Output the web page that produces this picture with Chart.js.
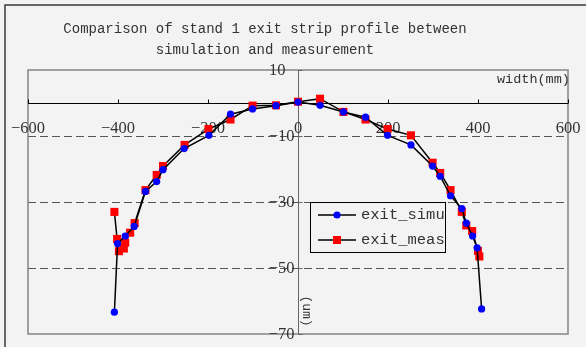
<!DOCTYPE html>
<html>
<head>
<meta charset="utf-8">
<script src="https://cdn.jsdelivr.net/npm/chart.js@4"></script>
<style>
  html, body { margin: 0; padding: 0; background: #f3f3f3; }
  #wrap { width: 586px; height: 347px; }
</style>
</head>
<body>
<div id="wrap"><canvas id="c" width="586" height="347"></canvas></div>
<script>
// values (width in mm, profile in um)
const simuX = [-408, -401, -384, -364, -339, -314, -300, -253, -198, -150, -101, -49, 0, 49, 101, 150, 199, 251, 299, 316, 339, 364, 374, 388, 398, 408];
const simuY = [-63.4, -42.6, -40.3, -37.4, -26.8, -23.8, -20.2, -13.8, -9.8, -3.4, -1.8, -0.8, 0.3, -0.7, -2.7, -4.3, -9.8, -12.7, -19.1, -22.2, -28.1, -32.0, -36.4, -40.3, -43.9, -62.4];
const measX = [-408, -402, -398, -387, -384, -373, -363, -339, -314, -300, -252, -199, -150, -101, -49, 0, 49, 101, 150, 199, 251, 299, 316, 339, 364, 374, 387, 400, 403];
const measY = [-33.0, -41.2, -44.9, -44.1, -42.3, -39.3, -36.4, -26.4, -21.8, -19.1, -12.7, -7.9, -5.0, -0.8, -0.7, 0.4, 1.3, -2.7, -5.0, -7.9, -9.8, -18.1, -21.2, -26.4, -33.0, -37.1, -38.8, -44.8, -46.5];

const xTicks = [-600, -400, -200, 0, 200, 400, 600];
const yTicks = [10, -10, -30, -50, -70];
const gridY = [-10, -30, -50];

const seriesNames = ['exit_simu', 'exit_meas'];
const titleLines = ['Comparison of stand 1 exit strip profile between', 'simulation and measurement'];
const xTitle = 'width(mm)';
const yTitle = '(um)';

const fmt = v => (v < 0 ? '\u2212' + Math.abs(v) : String(v));

const decor = {
  id: 'decor',
  beforeDraw(chart) {
    const ctx = chart.ctx;
    ctx.save();
    ctx.fillStyle = '#f3f3f3';
    ctx.fillRect(0, 0, chart.width, chart.height);
    // outer frame
    ctx.strokeStyle = '#3a3a3a';
    ctx.lineWidth = 1.5;
    ctx.beginPath();
    ctx.moveTo(5, chart.height);
    ctx.lineTo(5, 5);
    ctx.lineTo(chart.width, 5);
    ctx.stroke();
    // title
    ctx.fillStyle = '#333';
    ctx.font = '14px "Liberation Mono"';
    ctx.textAlign = 'center';
    ctx.textBaseline = 'middle';
    ctx.fillText(titleLines[0], 265, 29);
    ctx.fillText(titleLines[1], 265, 50);
    ctx.restore();
  },
  beforeDatasetsDraw(chart) {
    const ctx = chart.ctx;
    const a = chart.chartArea;
    const xs = chart.scales.x, ys = chart.scales.y;
    const x0 = Math.round(xs.getPixelForValue(0)) + 0.5;
    const y0 = Math.round(ys.getPixelForValue(0)) + 0.5;
    ctx.save();
    // dashed grid
    ctx.strokeStyle = '#555';
    ctx.lineWidth = 1;
    ctx.setLineDash([8, 4]);
    gridY.forEach(v => {
      const y = Math.round(ys.getPixelForValue(v)) + 0.5;
      ctx.beginPath();
      ctx.moveTo(a.left, y);
      ctx.lineTo(a.right, y);
      ctx.stroke();
    });
    ctx.setLineDash([]);
    // plot frame
    ctx.strokeStyle = '#858585';
    ctx.lineWidth = 1.5;
    ctx.strokeRect(a.left, a.top, a.right - a.left, a.bottom - a.top);
    // y axis
    ctx.strokeStyle = '#666';
    ctx.lineWidth = 1;
    ctx.beginPath();
    ctx.moveTo(x0, a.top);
    ctx.lineTo(x0, a.bottom);
    ctx.stroke();
    yTicks.forEach(v => {
      const y = Math.round(ys.getPixelForValue(v)) + 0.5;
      ctx.beginPath();
      ctx.moveTo(x0, y);
      ctx.lineTo(x0 + 4, y);
      ctx.stroke();
    });
    // x axis
    ctx.strokeStyle = '#000';
    ctx.beginPath();
    ctx.moveTo(a.left, y0);
    ctx.lineTo(a.right, y0);
    ctx.stroke();
    xTicks.forEach(v => {
      const x = Math.round(xs.getPixelForValue(v)) + 0.5;
      ctx.beginPath();
      ctx.moveTo(x, y0);
      ctx.lineTo(x, y0 - 4);
      ctx.stroke();
    });
    // tick labels
    ctx.fillStyle = '#333';
    ctx.font = '16.5px "Liberation Serif"';
    ctx.textBaseline = 'middle';
    ctx.textAlign = 'center';
    xTicks.forEach(v => {
      ctx.fillText(fmt(v), xs.getPixelForValue(v), y0 + 25);
    });
    ctx.textAlign = 'right';
    yTicks.forEach(v => {
      const off = v > 0 ? 13 : 4;
      ctx.fillText(fmt(v), x0 - off, ys.getPixelForValue(v) + 0.5);
    });
    // axis titles
    ctx.font = '13.5px "Liberation Mono"';
    ctx.textAlign = 'left';
    ctx.fillText(xTitle, 497, 79);
    ctx.translate(x0 + 8, 311);
    ctx.rotate(Math.PI / 2);
    ctx.textAlign = 'center';
    ctx.font = '13px "Liberation Mono"';
    ctx.fillText(yTitle, 0, 0);
    ctx.restore();
  },
  afterDatasetsDraw(chart) {
    const ctx = chart.ctx;
    ctx.save();
    ctx.fillStyle = '#f3f3f3';
    ctx.fillRect(311, 202, 135, 50);
    ctx.strokeStyle = '#000';
    ctx.lineWidth = 1;
    ctx.strokeRect(310.5, 202.5, 135, 50);
    const rows = [215, 240];
    chart.data.datasets.forEach((ds, i) => {
      const y = rows[i];
      ctx.strokeStyle = '#000';
      ctx.lineWidth = 1.5;
      ctx.beginPath();
      ctx.moveTo(318, y);
      ctx.lineTo(356, y);
      ctx.stroke();
      ctx.fillStyle = ds.pointBackgroundColor;
      if (ds.pointStyle === 'rect') {
        ctx.fillRect(333, y - 4, 8, 8);
      } else {
        ctx.beginPath();
        ctx.arc(337, y, 3.6, 0, Math.PI * 2);
        ctx.fill();
      }
      ctx.fillStyle = '#333';
      ctx.font = '15.5px "Liberation Mono"';
      ctx.textAlign = 'left';
      ctx.textBaseline = 'middle';
      ctx.fillText(ds.label, 361, y);
    });
    ctx.restore();
  }
};

new Chart(document.getElementById('c'), {
  type: 'scatter',
  data: {
    datasets: [
      {
        label: seriesNames[0],
        data: simuX.map((x, i) => ({ x: x, y: simuY[i] })),
        showLine: true,
        borderColor: '#000',
        borderWidth: 1.5,
        pointStyle: 'circle',
        pointRadius: 3.6,
        pointBorderWidth: 0,
        pointBackgroundColor: '#0000ff'
      },
      {
        label: seriesNames[1],
        data: measX.map((x, i) => ({ x: x, y: measY[i] })),
        showLine: true,
        borderColor: '#000',
        borderWidth: 1.5,
        pointStyle: 'rect',
        pointRadius: 5.7,
        pointBorderWidth: 0,
        pointBackgroundColor: '#ff0000'
      }
    ]
  },
  options: {
    responsive: false,
    animation: false,
    events: [],
    layout: { padding: { left: 28, right: 18, top: 70, bottom: 13 } },
    scales: {
      x: { type: 'linear', min: -600, max: 600, display: false },
      y: { type: 'linear', min: -70, max: 10, display: false }
    },
    plugins: {
      legend: { display: false },
      title: { display: false },
      tooltip: { enabled: false }
    }
  },
  plugins: [decor]
});
</script>
</body>
</html>
